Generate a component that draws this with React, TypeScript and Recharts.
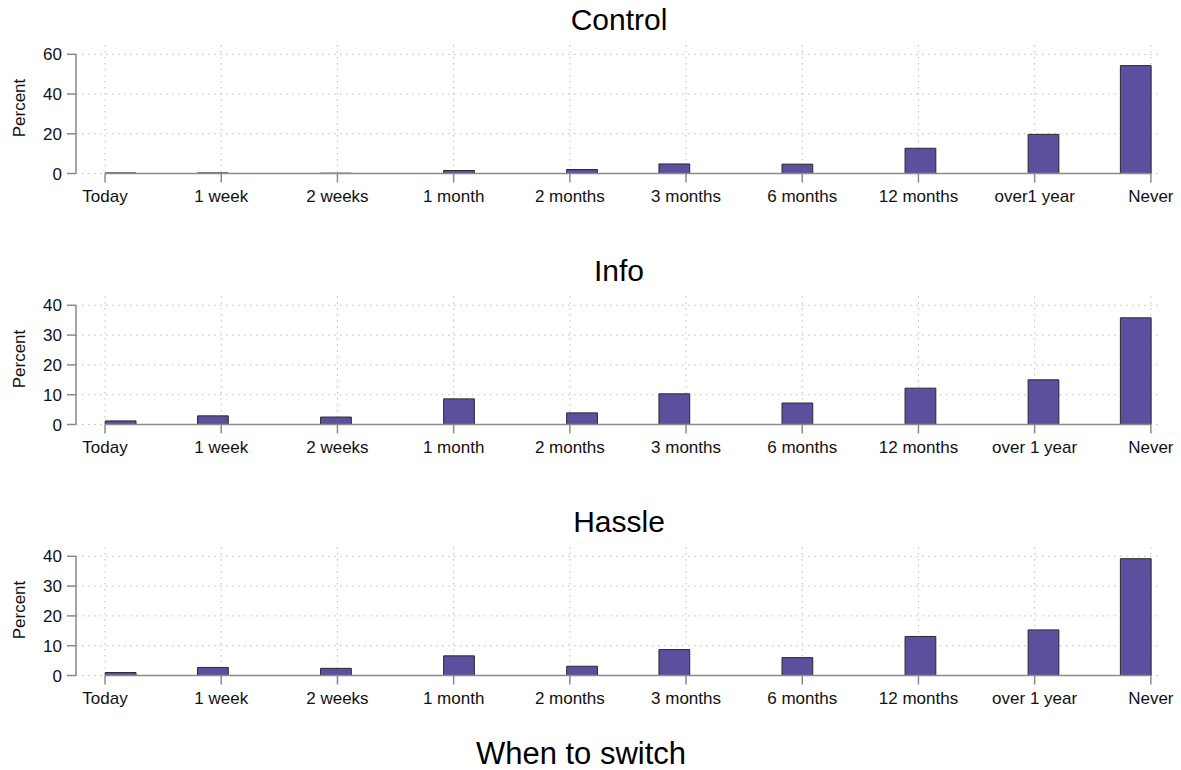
import React from "react";
import { BarChart, Bar, XAxis, YAxis, CartesianGrid, ReferenceLine } from "recharts";

// Histogram bin midpoints (time-to-switch scale 0..9, 34 equal bins)
const BIN_WIDTH = 9 / 34;
const binCenters = [0.132, 0.926, 1.985, 3.044, 4.103, 4.897, 5.956, 7.015, 8.074, 8.868];
const xTicks = [0, 1, 2, 3, 4, 5, 6, 7, 8, 9];

const controlLabels = ["Today", "1 week", "2 weeks", "1 month", "2 months", "3 months", "6 months", "12 months", "over1 year", "Never"];
const infoLabels = ["Today", "1 week", "2 weeks", "1 month", "2 months", "3 months", "6 months", "12 months", "over 1 year", "Never"];
const hassleLabels = ["Today", "1 week", "2 weeks", "1 month", "2 months", "3 months", "6 months", "12 months", "over 1 year", "Never"];

const controlPct = [0.3, 0.3, 0.15, 1.5, 2.0, 4.8, 4.7, 12.7, 19.7, 54.3];
const infoPct = [1.2, 2.9, 2.5, 8.6, 3.9, 10.3, 7.2, 12.2, 15.0, 35.8];
const hasslePct = [1.0, 2.7, 2.4, 6.6, 3.1, 8.7, 6.0, 13.1, 15.3, 39.2];

const controlYTicks = [0, 20, 40, 60];
const infoYTicks = [0, 10, 20, 30, 40];
const hassleYTicks = [0, 10, 20, 30, 40];

const FONT = "'Liberation Sans', Arial, Helvetica, sans-serif";
const AXIS = "#8a8a8a";
const BAR_FILL = "#5b4f9e";
const CHART_W = 1181;
const CHART_H = 230;
const PLOT_LEFT = 76;
const PLOT_RIGHT = 1162;
const PLOT_TOP = 45;
const PLOT_BOTTOM = 173.5;
const X_DOMAIN: [number, number] = [-0.25, 9.096];
const PANEL_STEP = 251;

const pxPerUnit = (PLOT_RIGHT - PLOT_LEFT) / (X_DOMAIN[1] - X_DOMAIN[0]);
const barPx = BIN_WIDTH * pxPerUnit;

type PanelProps = {
  top: number;
  labels: string[];
  values: number[];
  yTicks: number[];
};

function Panel({ top, labels, values, yTicks }: PanelProps) {
  const data = binCenters.map((x, i) => ({ x, pct: values[i] }));
  const topTick = yTicks[yTicks.length - 1];
  const yMax = topTick * 1.078;
  const xAxisH = 40;
  return (
    <div style={{ position: "absolute", left: 0, top, width: CHART_W, height: CHART_H }}>
      <BarChart
        width={CHART_W}
        height={CHART_H}
        data={data}
        margin={{ top: PLOT_TOP, right: CHART_W - PLOT_RIGHT, left: PLOT_LEFT - 40, bottom: CHART_H - PLOT_BOTTOM - xAxisH }}
      >
        <CartesianGrid stroke="#bdbdbd" strokeDasharray="1.5 4.5" strokeWidth={1} syncWithTicks={true} />
        <XAxis
          type="number"
          dataKey="x"
          domain={X_DOMAIN}
          ticks={xTicks}
          interval={0}
          tickFormatter={(v: number) => labels[v]}
          axisLine={false}
          tickLine={{ stroke: AXIS, strokeWidth: 1.5 }}
          tickSize={9}
          tickMargin={7}
          height={xAxisH}
          tick={{ fill: "#111", fontSize: 17, fontFamily: FONT }}
        />
        <YAxis
          type="number"
          domain={[0, yMax]}
          ticks={yTicks}
          interval={0}
          width={40}
          axisLine={false}
          tickLine={{ stroke: AXIS, strokeWidth: 1.5 }}
          tickSize={9}
          tickMargin={5}
          tick={{ fill: "#111", fontSize: 17, fontFamily: FONT }}
        />
        <Bar dataKey="pct" fill={BAR_FILL} stroke="#2a2a2a" strokeWidth={1} barSize={barPx} isAnimationActive={false} />
        <ReferenceLine segment={[{ x: 0, y: 0 }, { x: 9, y: 0 }]} stroke={AXIS} strokeWidth={1.5} />
        <ReferenceLine segment={[{ x: X_DOMAIN[0], y: 0 }, { x: X_DOMAIN[0], y: topTick }]} stroke={AXIS} strokeWidth={1.5} />
      </BarChart>
    </div>
  );
}

const panelTitles = ["Control", "Info", "Hassle"];

export default function App() {
  const plotCenterX = (PLOT_LEFT + PLOT_RIGHT) / 2;
  return (
    <div style={{ position: "absolute", left: 0, top: 0, width: 1181, height: 770, background: "#fff", fontFamily: FONT }}>
      <Panel top={0} labels={controlLabels} values={controlPct} yTicks={controlYTicks} />
      <Panel top={PANEL_STEP} labels={infoLabels} values={infoPct} yTicks={infoYTicks} />
      <Panel top={PANEL_STEP * 2} labels={hassleLabels} values={hasslePct} yTicks={hassleYTicks} />
      <svg width={1181} height={770} style={{ position: "absolute", left: 0, top: 0, pointerEvents: "none" }}>
        {panelTitles.map((t, i) => (
          <text key={t} x={plotCenterX} y={30 + i * PANEL_STEP} textAnchor="middle" fontSize={30} fontFamily={FONT} fill="#000">
            {t}
          </text>
        ))}
        {panelTitles.map((t, i) => (
          <text
            key={"p" + t}
            transform={`translate(25, ${108 + i * PANEL_STEP}) rotate(-90)`}
            textAnchor="middle"
            fontSize={17}
            fontFamily={FONT}
            fill="#111"
          >
            Percent
          </text>
        ))}
        <text x={581} y={764} textAnchor="middle" fontSize={31} fontFamily={FONT} fill="#000">
          When to switch
        </text>
      </svg>
    </div>
  );
}
